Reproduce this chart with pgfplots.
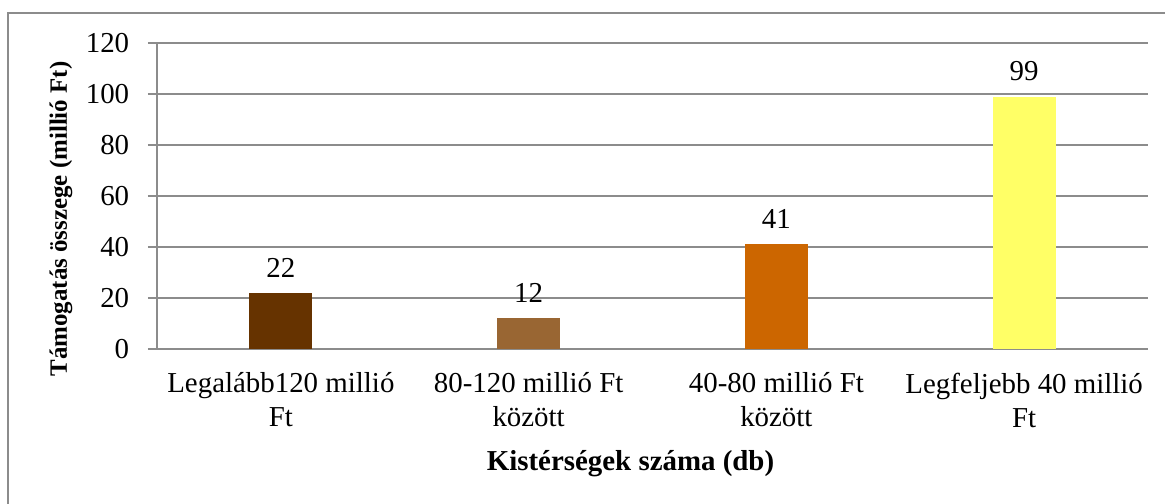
\documentclass[border=0pt]{standalone}
\usepackage{fontspec}
\setmainfont{Liberation Serif}
\usepackage{pgfplots}
\pgfplotsset{compat=1.18}
\definecolor{barA}{HTML}{663300}
\definecolor{barB}{HTML}{996633}
\definecolor{barC}{HTML}{CC6600}
\definecolor{barD}{HTML}{FFFF66}
\definecolor{gridgray}{HTML}{8C8C8C}
\begin{document}
\begin{tikzpicture}
\fontsize{29}{34}\selectfont
\useasboundingbox (-157bp,-155bp) rectangle (1008bp,349bp);
\draw[gridgray, line width=2bp] (-149bp,-200bp) -- (-149bp,336bp) -- (1050bp,336bp);
\begin{axis}[
    at={(0,0)}, anchor=south west,
    scale only axis,
    width=991bp, height=306bp,
    font=\fontsize{29}{34}\selectfont,
    /pgf/number format/assume math mode=true,
    axis lines*=left,
    axis line style={gridgray, line width=1.5bp},
    ymin=0, ymax=120, ytick={0,20,...,120},
    xmin=-0.5, xmax=3.5,
    xtick={0,1,2,3},
    xticklabels={Legalább120 millió\\Ft, 80-120 millió Ft\\között, 40-80 millió Ft\\között, Legfeljebb 40 millió\\Ft},
    xticklabel style={align=center, yshift=-5bp},
    yticklabel style={xshift=-9bp},
    x tick style={draw=none},
    y tick style={gridgray, line width=1.5bp},
    tick align=outside, major tick length=9bp,
    ymajorgrids,
    grid style={gridgray, line width=1.5bp},
    ybar, bar width=63bp, bar shift=0pt,
    nodes near coords,
    every node near coord/.append style={font=\fontsize{29}{34}\selectfont, yshift=6bp},
    xlabel={\bfseries Kistérségek száma (db)},
    every axis x label/.style={at={(axis description cs:0.5,0)}, anchor=base, xshift=-22bp, yshift=-121bp},
]
\addplot[fill=barA, draw=none] coordinates {(0,22)};
\addplot[fill=barB, draw=none] coordinates {(1,12)};
\addplot[fill=barC, draw=none] coordinates {(2,41)};
\addplot[fill=barD, draw=none] coordinates {(3,99)};
\end{axis}
% y axis title
\node[rotate=90, anchor=center, inner sep=0pt, font=\bfseries\fontsize{25}{30}\selectfont] at (-96bp,130bp) {Támogatás összege (millió Ft)};
\end{tikzpicture}
\end{document}
